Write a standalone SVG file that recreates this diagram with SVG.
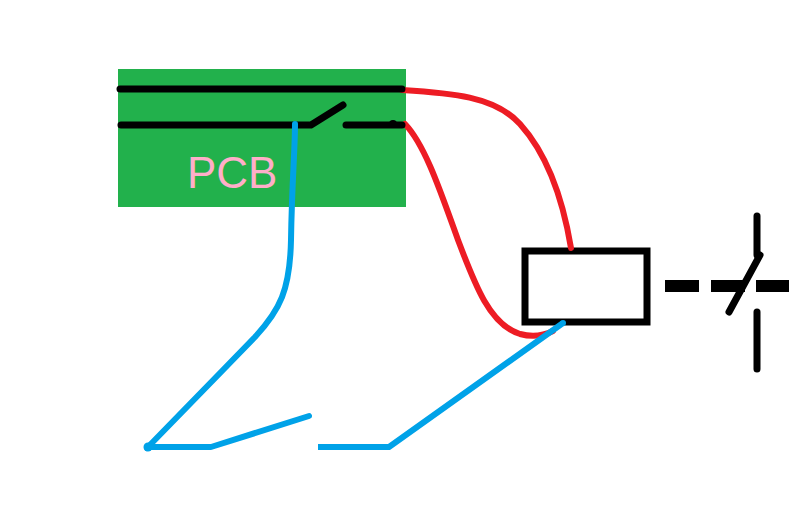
<svg xmlns="http://www.w3.org/2000/svg" width="789" height="527" viewBox="0 0 789 527">
<style>
.k{fill:none;stroke:#000;stroke-width:7;stroke-linecap:round;stroke-linejoin:round}
.r{fill:none;stroke:#ed1c24;stroke-width:6;stroke-linecap:round;stroke-linejoin:round}
.b{fill:none;stroke:#00a2e8;stroke-width:6;stroke-linecap:round;stroke-linejoin:round}
.d{fill:none;stroke:#000;stroke-width:12}
</style>
<rect width="789" height="527" fill="#fff"/>
<g id="pcb">
<rect x="118" y="69" width="288" height="138" fill="#22b14c"/>
<text x="187" y="188" font-family="Liberation Sans, Arial, sans-serif" font-size="44" fill="#ffaec9">PCB</text>
</g>
<g id="relay">
<rect x="525" y="251" width="122" height="71" fill="#fff" stroke="#000" stroke-width="7"/>
</g>
<g id="connectors">
<path class="r" d="M402 90C450 93 495 96 520 124C548 155 563 200 571 248"/>
<path class="r" d="M405 124C425 145 440 190 458 240C475 285 490 325 520 334C535 338 545 335 553 331"/>
<path class="k" d="M120 89H402"/>
<path class="k" d="M121 125H311L343 105"/>
<path class="k" d="M346 125H402"/>
<circle cx="393" cy="124" r="4"/>
<path class="b" d="M295 124C295 150 292 180 291 240C290 290 280 310 255 337L222 371L147 448"/>
<path class="b" d="M147 447H211L309 416"/>
<circle cx="148" cy="447" r="4.5" fill="#00a2e8"/>
<path class="b" d="M318 447H389L563 323" style="stroke-linecap:butt"/>
<circle cx="563" cy="323" r="3" fill="#00a2e8"/>
</g>
<g id="contact">
<path class="d" d="M665 286H699M711 286H745M756 286H789"/>
<path class="k" d="M757 216V255"/>
<path class="k" d="M760 255L729 312"/>
<path class="k" d="M757 312V369"/>
</g>
</svg>
